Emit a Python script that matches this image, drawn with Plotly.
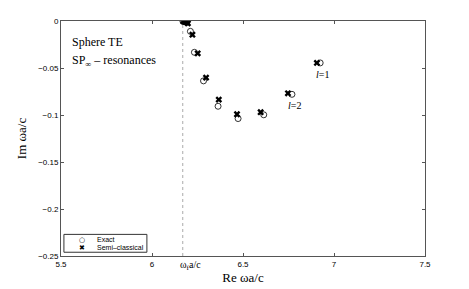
import plotly.graph_objects as go

# Data
exact_re = [6.170, 6.175, 6.180, 6.186, 6.192, 6.211, 6.233, 6.283, 6.363, 6.473, 6.614, 6.769, 6.924]
exact_im = [-0.0002, -0.0003, -0.0005, -0.0008, -0.0015, -0.011, -0.0333, -0.0637, -0.0907, -0.1038, -0.0998, -0.0780, -0.0446]
semi_re = [6.172, 6.177, 6.183, 6.189, 6.197, 6.222, 6.251, 6.297, 6.367, 6.467, 6.597, 6.747, 6.906]
semi_im = [-0.0002, -0.0004, -0.0006, -0.0010, -0.0025, -0.0146, -0.0344, -0.0602, -0.0836, -0.0992, -0.0970, -0.0769, -0.0446]
omega_f = 6.169
x_ticks = [5.5, 6, 6.5, 7, 7.5]
x_ticklabels = ["5.5", "6", "6.5", "7", "7.5"]
y_ticks = [0, -0.05, -0.1, -0.15, -0.2, -0.25]
y_ticklabels = ["0", "\u22120.05", "\u22120.1", "\u22120.15", "\u22120.2", "\u22120.25"]
l_labels = [(6.924, -0.0446, "<i>l</i>=1"), (6.769, -0.0780, "<i>l</i>=2")]
legend_names = ["Exact", "Semi\u2013classical"]
legend_symbols = ["\u25cb", "\u2716"]

fig = go.Figure()
fig.add_trace(go.Scatter(x=exact_re, y=exact_im, mode="markers", name=legend_names[0], showlegend=False,
                         marker=dict(symbol="circle-open", size=6, color="black", line=dict(width=0.8))))
fig.add_trace(go.Scatter(x=semi_re, y=semi_im, mode="markers", name=legend_names[1], showlegend=False,
                         marker=dict(symbol="x", size=6, color="black", line=dict(width=0))))

fig.add_shape(type="line", x0=omega_f, x1=omega_f, y0=-0.25, y1=0, xref="x", yref="y",
              line=dict(color="#aaa", width=1, dash="dot"), layer="below")

serif = "Liberation Serif, Times New Roman, serif"
sans = "Liberation Sans, Arial, sans-serif"

fig.add_annotation(x=5.55, y=-0.022, text="Sphere TE", showarrow=False, xanchor="left",
                   font=dict(family=serif, size=12, color="black"))
fig.add_annotation(x=5.55, y=-0.043, text="SP<sub>\u221e</sub> \u2013 resonances", showarrow=False, xanchor="left",
                   font=dict(family=serif, size=12, color="black"))
for xv, yv, t in l_labels:
    fig.add_annotation(x=xv, y=yv, text=t, showarrow=False, xanchor="left", yanchor="top",
                       xshift=-6, yshift=-4, font=dict(family=serif, size=10, color="black"))
fig.add_annotation(x=omega_f, y=-0.25, text="\u03c9<sub>f</sub>a/c", showarrow=False, yanchor="top",
                   xanchor="center", xshift=8, yshift=-1, font=dict(family=serif, size=10, color="black"))

# manual compact legend (paper coordinates)
fig.add_shape(type="rect", xref="paper", yref="paper", x0=0.008, x1=0.236, y0=0.016, y1=0.092,
              line=dict(color="#333", width=1), fillcolor="white")
for i, (sym, name) in enumerate(zip(legend_symbols, legend_names)):
    yy = 0.07 - i * 0.034
    fig.add_annotation(xref="paper", yref="paper", x=0.057, y=yy, text=sym, showarrow=False,
                       xanchor="center", yanchor="middle",
                       font=dict(family="DejaVu Sans", size=7, color="black"))
    fig.add_annotation(xref="paper", yref="paper", x=0.093, y=yy, text=name, showarrow=False,
                       xanchor="left", yanchor="middle", font=dict(family=sans, size=7, color="black"))

axis_common = dict(showgrid=False, zeroline=False, showline=True, linecolor="#555", linewidth=1,
                   mirror="ticks", ticks="inside", ticklen=3, tickcolor="#555", automargin=False,
                   tickfont=dict(family=sans, size=8, color="black"))
fig.update_xaxes(range=[5.5, 7.5], tickvals=x_ticks, ticktext=x_ticklabels,
                 title=dict(text="Re \u03c9a/c", font=dict(family=serif, size=13, color="black"), standoff=5),
                 **axis_common)
fig.update_yaxes(range=[-0.25, 0], tickvals=y_ticks, ticktext=y_ticklabels,
                 title=dict(text="Im \u03c9a/c", font=dict(family=serif, size=13, color="black"), standoff=8),
                 **axis_common)

# page body has an 8px margin; offset the figure accordingly
fig.update_layout(width=461, height=281, margin=dict(l=53, r=44, t=13, b=33),
                  plot_bgcolor="white", paper_bgcolor="white", showlegend=False)

fig.write_html("out.html")
